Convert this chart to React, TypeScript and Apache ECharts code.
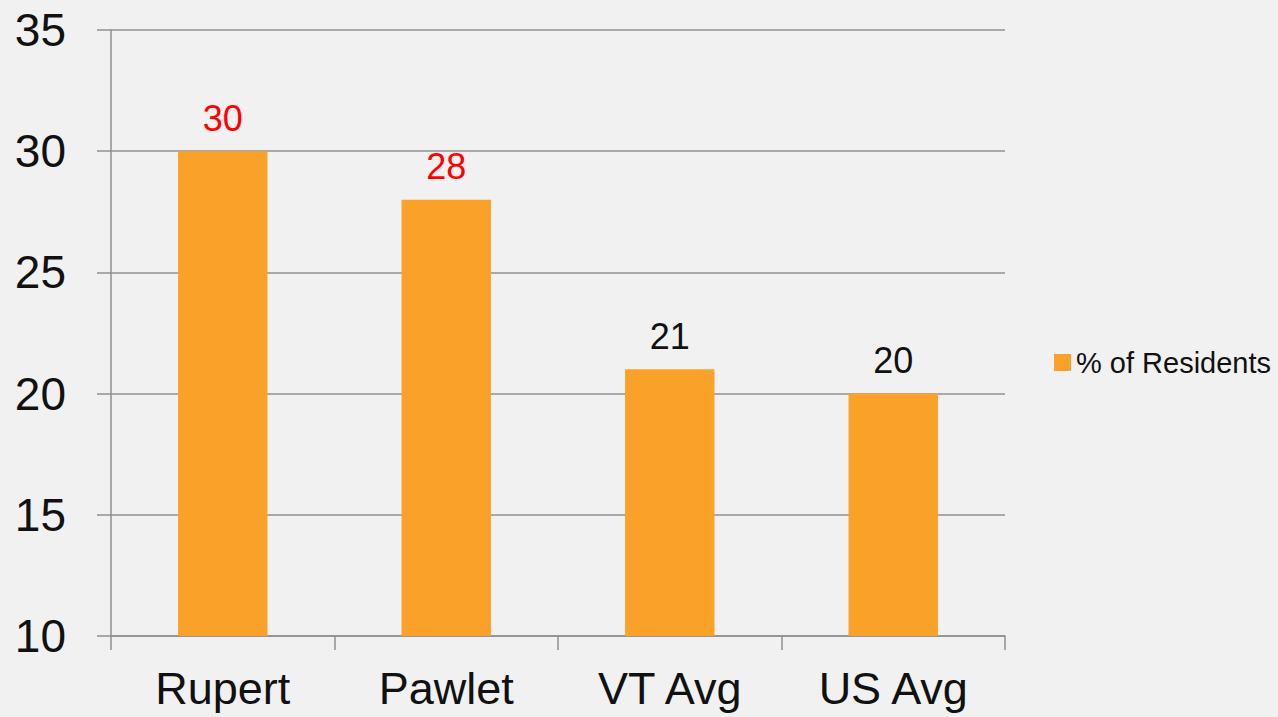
import React, { useEffect, useRef } from "react";
import * as echarts from "echarts";

const categories = ["Rupert", "Pawlet", "VT Avg", "US Avg"];
const residentsPct = [30, 28, 21, 20];
const highlightedTowns = ["Rupert", "Pawlet"];
const seriesName = "% of Residents";

const FONT = "Liberation Sans";

export default function App() {
  const ref = useRef<HTMLDivElement>(null);
  useEffect(() => {
    document.body.style.margin = "0";
    const chart = echarts.init(ref.current!, null, { renderer: "svg" });
    chart.setOption({
      animation: false,
      backgroundColor: "#f1f1f1",
      textStyle: { fontFamily: FONT },
      grid: { left: 111, right: 273, top: 30, bottom: 81, containLabel: false },
      legend: {
        show: true,
        left: 1049,
        top: 343,
        itemWidth: 17,
        itemHeight: 17,
        itemGap: 10,
        icon: "rect",
        textStyle: { fontSize: 29, color: "#111", fontFamily: FONT },
        data: [seriesName],
      },
      xAxis: {
        type: "category",
        data: categories,
        axisLine: { show: true, lineStyle: { color: "#8f8f8f", width: 1.5 } },
        axisTick: { show: true, length: 14, lineStyle: { color: "#8f8f8f", width: 1.5 } },
        axisLabel: { fontSize: 45, color: "#111", margin: 30, fontFamily: FONT },
      },
      yAxis: {
        type: "value",
        min: 10,
        max: 35,
        interval: 5,
        axisLine: { show: true, lineStyle: { color: "#8f8f8f", width: 1.5 } },
        axisTick: { show: true, length: 14, lineStyle: { color: "#8f8f8f", width: 1.5 } },
        axisLabel: { fontSize: 46, color: "#111", margin: 45, fontFamily: FONT },
        splitLine: { show: true, lineStyle: { color: "#8f8f8f", width: 1.5 } },
      },
      series: [
        {
          name: seriesName,
          type: "bar",
          barWidth: "40%",
          itemStyle: { color: "#FAA12A" },
          label: {
            show: true,
            position: "top",
            distance: 15,
            fontSize: 36,
            fontFamily: FONT,
          },
          data: residentsPct.map((v, i) => ({
            value: v,
            label: { color: highlightedTowns.includes(categories[i]) ? "#ff0000" : "#111" },
          })),
        },
      ],
    });
    return () => chart.dispose();
  }, []);
  return (
    <div
      ref={ref}
      style={{ position: "absolute", left: 0, top: 0, width: 1278, height: 717 }}
    />
  );
}
